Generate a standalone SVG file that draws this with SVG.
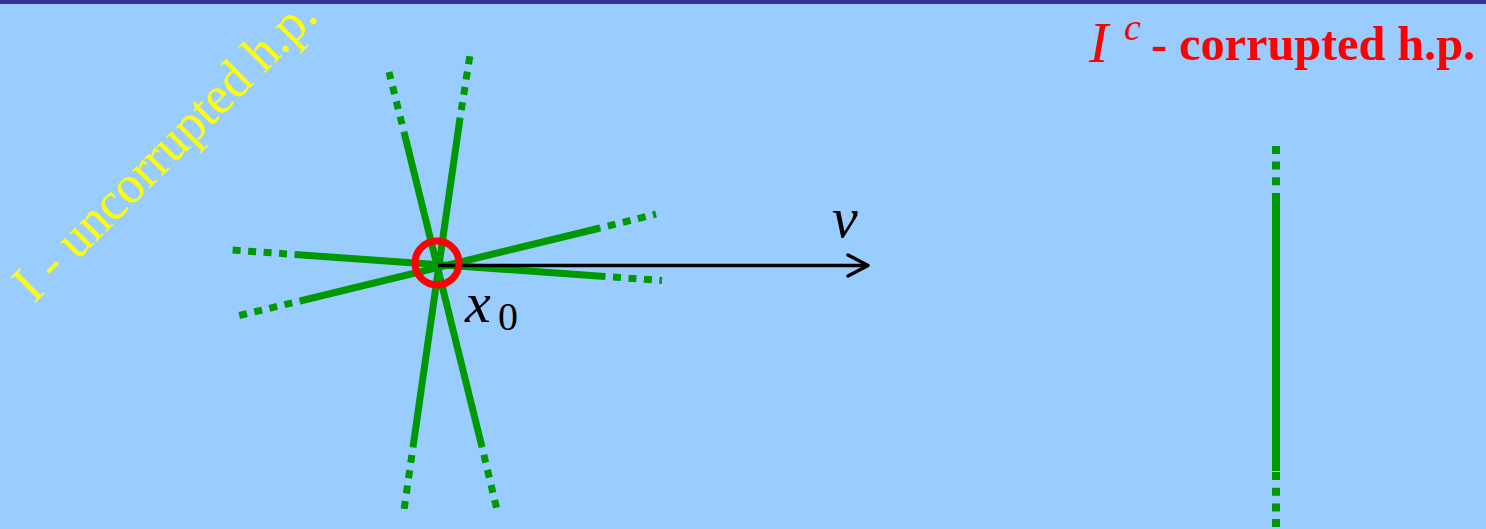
<svg xmlns="http://www.w3.org/2000/svg" width="1486" height="529" viewBox="0 0 1486 529">
<style>
.solid{stroke:#009900;stroke-width:7;fill:none}
.dot{stroke:#009900;stroke-width:7;fill:none;stroke-dasharray:8 7.5;stroke-dashoffset:7.5}
.vsolid{stroke:#009900;stroke-width:8;fill:none}
.vdot{stroke:#009900;stroke-width:8;fill:none;stroke-dasharray:8 7.7}
.math{font-family:"Liberation Serif",serif;font-style:italic}
</style>
<rect x="0" y="0" width="1486" height="529" fill="#99CCFF"/>
<rect x="0" y="0" width="1486" height="4" fill="#333399"/>

<g id="label-uncorrupted">
<text x="34" y="304" transform="rotate(-45 34 304)" font-family="Liberation Serif, serif" font-size="54" fill="#FFFF00" textLength="404" lengthAdjust="spacingAndGlyphs">I - uncorrupted h.p.</text>
</g>

<g id="label-corrupted" fill="#FF0000">
<text class="math" x="1089" y="62" font-size="58">I</text>
<text class="math" x="1124" y="40" font-size="38">c</text>
<text x="1151" y="60" font-family="Liberation Serif, serif" font-weight="bold" font-size="48" textLength="324" lengthAdjust="spacingAndGlyphs">- corrupted h.p.</text>
</g>

<g id="star-lines">
<g id="line-a">
<line class="solid" x1="404" y1="132" x2="482" y2="447"/>
<line class="dot" x1="404" y1="132" x2="389" y2="72"/>
<line class="dot" x1="482" y1="447" x2="497" y2="510"/>
</g>
<g id="line-b">
<line class="solid" x1="460" y1="118" x2="413" y2="447"/>
<line class="dot" x1="460" y1="118" x2="470" y2="55"/>
<line class="dot" x1="413" y1="447" x2="404" y2="510"/>
</g>
<g id="line-c">
<line class="solid" x1="295" y1="254.5" x2="605" y2="276.5"/>
<line class="dot" x1="295" y1="254.5" x2="232" y2="250"/>
<line class="dot" x1="605" y1="276.5" x2="662" y2="280.5"/>
</g>
<g id="line-d">
<line class="solid" x1="300" y1="301" x2="600" y2="228"/>
<line class="dot" x1="300" y1="301" x2="237" y2="316"/>
<line class="dot" x1="600" y1="228" x2="656" y2="214"/>
</g>
</g>

<g id="connectors">
<line x1="438" y1="265.5" x2="867" y2="265.5" stroke="#000" stroke-width="3.5"/>
<polyline points="848,255 868,265.5 848,276" fill="none" stroke="#000" stroke-width="3.5" stroke-linecap="round" stroke-linejoin="round"/>
</g>

<g id="x0-point">
<circle cx="437" cy="263" r="22" fill="none" stroke="#FF0000" stroke-width="7"/>
<text class="math" x="465" y="322" font-size="58" fill="#000">x</text>
<text x="498" y="330" font-family="Liberation Serif, serif" font-size="40" fill="#000">0</text>
</g>

<g id="v-label">
<text class="math" x="832" y="237" font-size="58" fill="#000">v</text>
</g>

<g id="corrupted-line">
<line class="vsolid" x1="1276" y1="201" x2="1276" y2="471"/>
<line class="vdot" x1="1276" y1="201" x2="1276" y2="146"/>
<line class="vdot" x1="1276" y1="472" x2="1276" y2="529"/>
</g>
</svg>
